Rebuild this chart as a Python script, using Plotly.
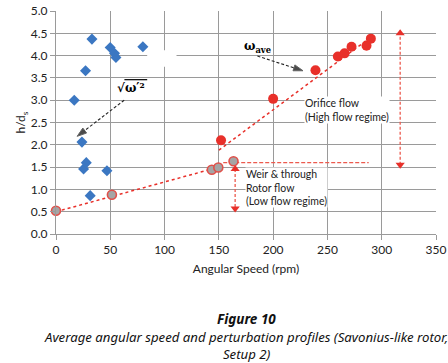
import plotly.graph_objects as go

# ---- data ----
blue_x = [16.8, 23.9, 25.4, 27.2, 27.9, 31.5, 33.1, 46.9, 49.9, 53.9, 55.2, 80]
blue_y = [3.0, 2.06, 1.46, 3.66, 1.60, 0.86, 4.37, 1.42, 4.18, 4.05, 3.96, 4.20]

high_x = [152, 200, 239, 259.6, 265.8, 272.2, 286, 290]
high_y = [2.10, 3.03, 3.67, 3.98, 4.05, 4.20, 4.22, 4.38]

low_x = [0, 51.5, 143.5, 149.5, 163.5]
low_y = [0.52, 0.88, 1.44, 1.49, 1.63]

low_trend_x = [0, 150]
low_trend_y = [0.5, 1.5]
high_trend_x = [150, 292]
high_trend_y = [1.88, 4.45]

horiz_x = [154, 288]
horiz_y = [1.6, 1.6]
right_arrow_x = [317, 317]
right_arrow_y = [1.55, 4.5]
mid_arrow_x = [165, 165]
mid_arrow_y = [1.46, 0.57]

sqrt_arrow_x = [62.8, 19.5]
sqrt_arrow_y = [3.0, 2.19]
ave_arrow_x = [185.5, 227.5]
ave_arrow_y = [3.99, 3.66]

x_ticks = [0, 50, 100, 150, 200, 250, 300, 350]
y_ticks = [0.0, 0.5, 1.0, 1.5, 2.0, 2.5, 3.0, 3.5, 4.0, 4.5, 5.0]

RED = "#E8302A"
ARROW_RED = "#EC5A4E"
FONT = "Lato"

fig = go.Figure()

# trend lines
fig.add_trace(go.Scatter(x=low_trend_x, y=low_trend_y, mode="lines",
                         line=dict(color=RED, width=1.5, dash="dot"), hoverinfo="skip"))
fig.add_trace(go.Scatter(x=high_trend_x, y=high_trend_y, mode="lines",
                         line=dict(color=RED, width=1.5, dash="dot"), hoverinfo="skip"))
fig.add_trace(go.Scatter(x=horiz_x, y=horiz_y, mode="lines",
                         line=dict(color=ARROW_RED, width=1.3, dash="4px,2px"), hoverinfo="skip"))

# red dashed double arrows
for ax_, ay_ in [(right_arrow_x, right_arrow_y), (mid_arrow_x, mid_arrow_y)]:
    fig.add_trace(go.Scatter(x=ax_, y=ay_, mode="lines",
                             line=dict(color=ARROW_RED, width=1.3, dash="3px,2px"), hoverinfo="skip"))
    up_first = ay_[0] < ay_[1]
    fig.add_trace(go.Scatter(x=ax_, y=ay_, mode="markers", cliponaxis=False,
                             marker=dict(symbol=["triangle-down" if up_first else "triangle-up",
                                                 "triangle-up" if up_first else "triangle-down"],
                                         size=8, color=RED), hoverinfo="skip"))

# black dashed arrows
for ax_, ay_ in [(sqrt_arrow_x, sqrt_arrow_y), (ave_arrow_x, ave_arrow_y)]:
    fig.add_trace(go.Scatter(x=ax_, y=ay_, mode="lines+markers",
                             line=dict(color="#222", width=1.1, dash="3px,2px"),
                             marker=dict(symbol="arrow", size=[0, 10], color="#000",
                                         angleref="previous"),
                             hoverinfo="skip"))

# data markers
fig.add_trace(go.Scatter(x=blue_x, y=blue_y, mode="markers", cliponaxis=False,
                         marker=dict(symbol="diamond", size=8.5, color="#3B77C2")))
fig.add_trace(go.Scatter(x=high_x, y=high_y, mode="markers", cliponaxis=False,
                         marker=dict(symbol="circle", size=10, color=RED)))
fig.add_trace(go.Scatter(x=low_x, y=low_y, mode="markers", cliponaxis=False,
                         marker=dict(symbol="circle", size=9, color="#A5A5A5",
                                     line=dict(color="#E0504A", width=1.6))))

def py(p):
    # pixel row -> paper coordinate (plot spans rows 11..234)
    return (234 - p) / 223

annotations = [
    dict(x=186, y=4.2, xref="x", yref="y", showarrow=False,
         text="<b>ω<sub>ave</sub></b>",
         font=dict(family="DejaVu Serif", size=12, color="#000")),
    dict(x=69, y=3.28, xref="x", yref="y", showarrow=False,
         text="<b>√ω′²</b>",
         font=dict(family="DejaVu Serif", size=12, color="#000")),
    dict(x=228, y=2.78, xref="x", yref="y", showarrow=False, xanchor="left",
         align="left", bgcolor="white", borderpad=0,
         text="Orifice flow<br>(High flow regime)",
         font=dict(family=FONT, size=10.5, color="#222")),
    dict(x=174.5, y=1.04, xref="x", yref="y", showarrow=False, xanchor="left",
         align="left", bgcolor="white", borderpad=0,
         text="Weir &amp; through<br>Rotor flow<br>(Low flow regime)",
         font=dict(family=FONT, size=10.5, color="#222")),
    dict(x=0.5, y=py(319), xref="paper", yref="paper", showarrow=False, yanchor="middle",
         borderpad=0, text="<b><i>Figure 10</i></b>",
         font=dict(family="Noto Sans", size=13.5, color="#111")),
    dict(x=0.5, y=py(345.5), xref="paper", yref="paper", showarrow=False, yanchor="middle",
         borderpad=0,
         text="<i>Average angular speed and perturbation profiles (Savonius-like rotor,"
              "<br>Setup 2)</i>",
         font=dict(family="Noto Sans", size=13.2, color="#111")),
]

shapes = [
    # overline of the radical
    dict(type="line", xref="x", yref="y", x0=63, x1=84, y0=3.46, y1=3.46,
         line=dict(color="#000", width=1.2)),
    # white gap in the grid
    dict(type="rect", xref="x", yref="y", x0=84, x1=111, y0=3.75, y1=4.12,
         fillcolor="white", line=dict(width=0), layer="between"),
]

fig.update_layout(
    width=448, height=363,
    margin=dict(l=56, r=12, t=11, b=129, autoexpand=False),
    paper_bgcolor="white", plot_bgcolor="white",
    showlegend=False,
    annotations=annotations,
    shapes=shapes,
    font=dict(family=FONT, size=12, color="#222"),
)
fig.update_xaxes(range=[0, 350], tickvals=x_ticks, showgrid=True, gridcolor="#9A9A9A",
                 gridwidth=1, zeroline=False, showline=True, linecolor="#9A9A9A",
                 ticks="outside", ticklen=5, tickcolor="#9A9A9A", automargin=False,
                 title=dict(text="Angular Speed (rpm)", standoff=8,
                            font=dict(family=FONT, size=12, color="#222")),
                 tickfont=dict(family=FONT, size=12, color="#222"))
fig.update_yaxes(range=[0, 5], tickvals=y_ticks, tickformat=".1f", showgrid=True,
                 gridcolor="#9A9A9A", gridwidth=1, zeroline=False, showline=True,
                 linecolor="#9A9A9A", ticks="outside", ticklen=5, tickcolor="#9A9A9A",
                 automargin=False,
                 title=dict(text="h/d<sub>s</sub>", standoff=2,
                            font=dict(family=FONT, size=12, color="#222")),
                 tickfont=dict(family=FONT, size=12, color="#222"))

fig.write_html("out.html", config={"displayModeBar": False},
               post_script="document.body.style.margin='0';document.body.style.overflow='hidden';")
